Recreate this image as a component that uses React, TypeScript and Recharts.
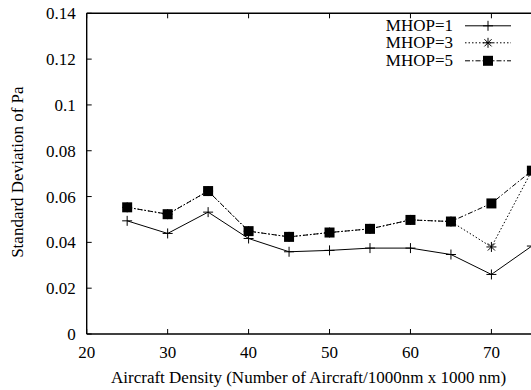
import React from 'react'
import {
  LineChart,
  Line,
  XAxis,
  YAxis,
} from 'recharts'

// values
const density = [25, 30, 35, 40, 45, 50, 55, 60, 65, 70, 75]
const mhop1 = [0.0494, 0.0439, 0.0532, 0.0417, 0.0359, 0.0365, 0.0375, 0.0375, 0.0347, 0.026, 0.0384]
const mhop3 = [0.0553, 0.0523, 0.0624, 0.0449, 0.0424, 0.0443, 0.0459, 0.0498, 0.0491, 0.038, 0.0713]
const mhop5 = [0.0553, 0.0523, 0.0624, 0.0449, 0.0424, 0.0443, 0.0459, 0.0498, 0.0491, 0.057, 0.0713]

const xTicks = [20, 30, 40, 50, 60, 70]
const yTicks = [0, 0.02, 0.04, 0.06, 0.08, 0.1, 0.12, 0.14]
const seriesNames = ['MHOP=1', 'MHOP=3', 'MHOP=5']

const serif = 'Liberation Serif'
const textSize = 17

const data = density.map((d, i) => ({
  density: d,
  m1: mhop1[i],
  m3: mhop3[i],
  m5: mhop5[i],
}))

type Shape = 'plus' | 'star' | 'square'

function Marker({ cx, cy, shape }: { cx: number; cy: number; shape: Shape }) {
  if (shape === 'square') {
    return <rect x={cx - 5} y={cy - 5} width={10} height={10} fill="#000" />
  }
  if (shape === 'star') {
    return (
      <path
        d={`M${cx - 5},${cy}H${cx + 5}M${cx},${cy - 5}V${cy + 5}M${cx - 3.6},${cy - 3.6}L${cx + 3.6},${cy + 3.6}M${cx - 3.6},${cy + 3.6}L${cx + 3.6},${cy - 3.6}`}
        stroke="#000"
        strokeWidth={1}
        fill="none"
      />
    )
  }
  return (
    <path
      d={`M${cx - 5},${cy}H${cx + 5}M${cx},${cy - 5}V${cy + 5}`}
      stroke="#000"
      strokeWidth={1}
      fill="none"
    />
  )
}

const makeDot = (shape: Shape) => (props: any) => {
  const { cx, cy, index } = props
  if (cx == null || cy == null) return <g key={`d-${shape}-${index}`} />
  return (
    <g key={`d-${shape}-${index}`}>
      <Marker cx={cx} cy={cy} shape={shape} />
    </g>
  )
}

const legendItems: { name: string; shape: Shape; dash?: string }[] = [
  { name: seriesNames[0], shape: 'plus' },
  { name: seriesNames[1], shape: 'star', dash: '1.5 2' },
  { name: seriesNames[2], shape: 'square', dash: '5 2 1.5 2' },
]

// legend drawn as plain page text so the serif face is in use from the first paint
function LegendBox() {
  return (
    <div style={{ position: 'absolute', left: 380, top: 16.5, fontFamily: serif, fontSize: textSize, color: '#000', zIndex: 2 }}>
      {legendItems.map((item) => (
        <div key={item.name} style={{ display: 'flex', alignItems: 'center', height: 17.6 }}>
          <span style={{ width: 73, textAlign: 'right', lineHeight: '17.6px', whiteSpace: 'nowrap' }}>{item.name}</span>
          <svg width={58} height={17.6} style={{ display: 'block' }}>
            <line x1={12} x2={58} y1={8.8} y2={8.8} stroke="#000" strokeWidth={1} strokeDasharray={item.dash} />
            <Marker cx={35} cy={8.8} shape={item.shape} />
          </svg>
        </div>
      ))}
    </div>
  )
}

const tickStyle = { fontFamily: serif, fontSize: textSize, fill: '#000' }
const axisLine = { stroke: '#000', strokeWidth: 1.4 }
const tickLine = { stroke: '#000', strokeWidth: 1 }

export default function App() {
  return (
    <div style={{ position: 'absolute', left: 0, top: 0, width: 531, height: 390, overflow: 'hidden' }}>
      <LegendBox />
      <LineChart
        width={545}
        height={390}
        data={data}
        margin={{ top: 12.3, right: 10.5, bottom: 0, left: 0 }}
      >
        <XAxis
          xAxisId="bottom"
          dataKey="density"
          type="number"
          domain={[20, 75.2]}
          ticks={xTicks}
          allowDataOverflow
          height={56}
          tickSize={-5}
          tickMargin={17}
          tick={tickStyle}
          axisLine={axisLine}
          tickLine={tickLine}
          label={{
            content: ({ viewBox }: any) => (
              <text
                x={viewBox.x + viewBox.width / 2 - 1.5}
                y={viewBox.y + 49}
                textAnchor="middle"
                fontFamily={serif}
                fontSize={textSize}
                fill="#000"
              >
                Aircraft Density (Number of Aircraft/1000nm x 1000 nm)
              </text>
            ),
          }}
        />
        <XAxis
          xAxisId="top"
          orientation="top"
          dataKey="density"
          type="number"
          domain={[20, 75.2]}
          ticks={xTicks}
          allowDataOverflow
          height={1}
          tickSize={-5}
          tickFormatter={() => ''}
          axisLine={axisLine}
          tickLine={tickLine}
        />
        <YAxis
          yAxisId="left"
          type="number"
          domain={[0, 0.14]}
          ticks={yTicks}
          width={86.7}
          tickSize={-5}
          tickMargin={16}
          tick={tickStyle}
          axisLine={axisLine}
          tickLine={tickLine}
          label={{
            content: ({ viewBox }: any) => {
              const cx = 23
              const cy = viewBox.y + viewBox.height / 2 - 1.5
              return (
                <text
                  x={cx}
                  y={cy}
                  transform={`rotate(-90, ${cx}, ${cy})`}
                  textAnchor="middle"
                  fontFamily={serif}
                  fontSize={textSize}
                  fill="#000"
                >
                  Standard Deviation of Pa
                </text>
              )
            },
          }}
        />
        <YAxis
          yAxisId="right"
          orientation="right"
          type="number"
          domain={[0, 0.14]}
          ticks={yTicks}
          width={1}
          tickSize={-5}
          tickFormatter={() => ''}
          axisLine={axisLine}
          tickLine={tickLine}
        />
        <Line
          xAxisId="bottom"
          yAxisId="left"
          dataKey="m1"
          name={seriesNames[0]}
          stroke="#000"
          strokeWidth={1}
          dot={makeDot('plus')}
          activeDot={false}
          isAnimationActive={false}
        />
        <Line
          xAxisId="bottom"
          yAxisId="left"
          dataKey="m3"
          name={seriesNames[1]}
          stroke="#000"
          strokeWidth={1}
          strokeDasharray="1.5 2"
          dot={makeDot('star')}
          activeDot={false}
          isAnimationActive={false}
        />
        <Line
          xAxisId="bottom"
          yAxisId="left"
          dataKey="m5"
          name={seriesNames[2]}
          stroke="#000"
          strokeWidth={1}
          strokeDasharray="5 2 1.5 2"
          dot={makeDot('square')}
          activeDot={false}
          isAnimationActive={false}
        />
      </LineChart>
    </div>
  )
}
